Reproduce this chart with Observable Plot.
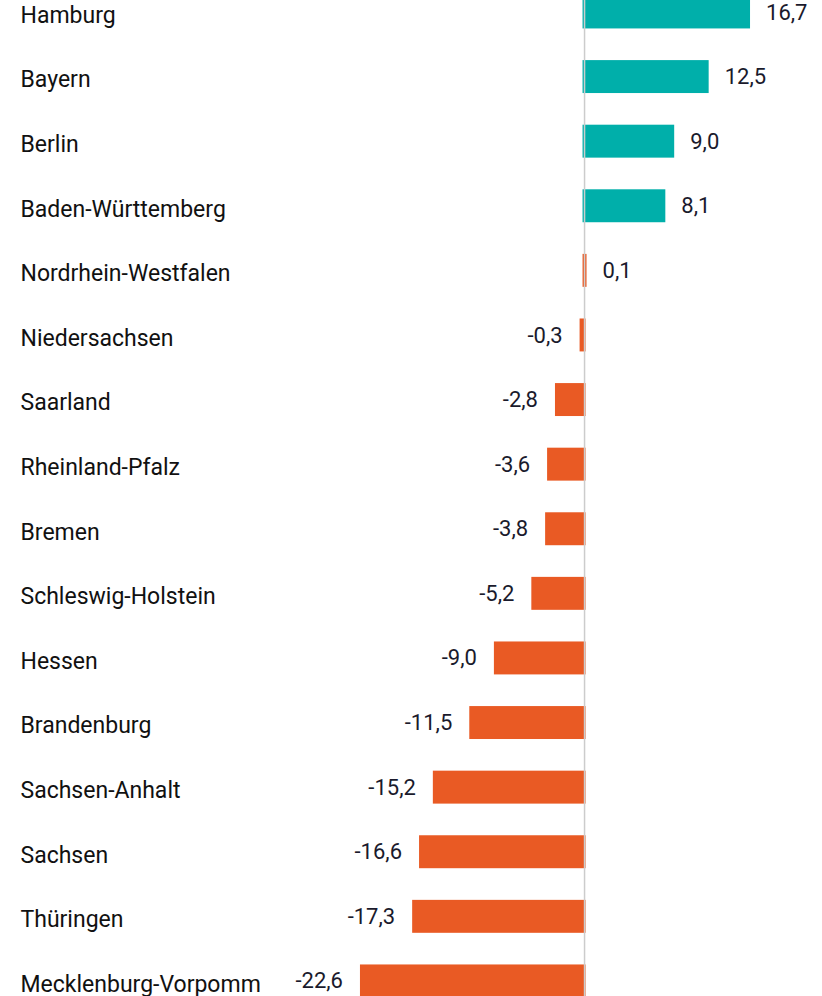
<!DOCTYPE html>
<html>
<head>
<meta charset="utf-8">
<script src="https://cdn.jsdelivr.net/npm/d3@7"></script>
<script src="https://cdn.jsdelivr.net/npm/@observablehq/plot@0.6"></script>
<style>
  html, body { margin: 0; padding: 0; background: #fff; }
  #chart svg { display: block; }
</style>
</head>
<body>
<div id="chart"></div>
<script>
const states = ["Hamburg","Bayern","Berlin","Baden-Württemberg","Nordrhein-Westfalen","Niedersachsen","Saarland","Rheinland-Pfalz","Bremen","Schleswig-Holstein","Hessen","Brandenburg","Sachsen-Anhalt","Sachsen","Thüringen","Mecklenburg-Vorpomm"];
const values = [16.7, 12.5, 9.0, 8.1, 0.1, -0.3, -2.8, -3.6, -3.8, -5.2, -9.0, -11.5, -15.2, -16.6, -17.3, -22.6];
const groups = ["top","top","top","top","rest","rest","rest","rest","rest","rest","rest","rest","rest","rest","rest","rest"];

const data = states.map((s, i) => ({name: s, value: values[i], group: groups[i]}));
const fmt = v => (v < 0 ? "-" : "") + Math.abs(v).toFixed(1).replace(".", ",");
const font = "Roboto, 'Open Sans', sans-serif";

const chart = Plot.plot({
  width: 822,
  height: 996,
  marginLeft: 0, marginRight: 0, marginTop: 0, marginBottom: 0,
  style: {fontFamily: font, background: "#fff"},
  x: {domain: [-59.3, 24.16], axis: null},
  y: {domain: states, range: [-4.5, 997.4], paddingInner: 0.49, paddingOuter: 0, align: 0, round: false, axis: null},
  color: {domain: ["top", "rest"], range: ["#00AFAA", "#E95A24"]},
  marks: [
    Plot.barX(data, {x: "value", y: "name", fill: "group", insetLeft: -1.5, insetRight: -1.5}),
    Plot.ruleX([0], {stroke: "#cccccc", strokeWidth: 1.5}),
    Plot.text(data, {y: "name", text: "name", frameAnchor: "left", textAnchor: "start", dx: 20, dy: 3, fontSize: 23, fontWeight: 400, fill: "#111111"}),
    Plot.text(data.filter(d => d.value >= 0), {x: "value", y: "name", text: d => fmt(d.value), textAnchor: "start", dx: 17, dy: 0, fontSize: 22, fontWeight: 400, fill: "#1a1a2c"}),
    Plot.text(data.filter(d => d.value < 0), {x: "value", y: "name", text: d => fmt(d.value), textAnchor: "end", dx: -19, dy: 0, fontSize: 22, fontWeight: 400, fill: "#1a1a2c"})
  ]
});
document.getElementById("chart").append(chart);
</script>
</body>
</html>
